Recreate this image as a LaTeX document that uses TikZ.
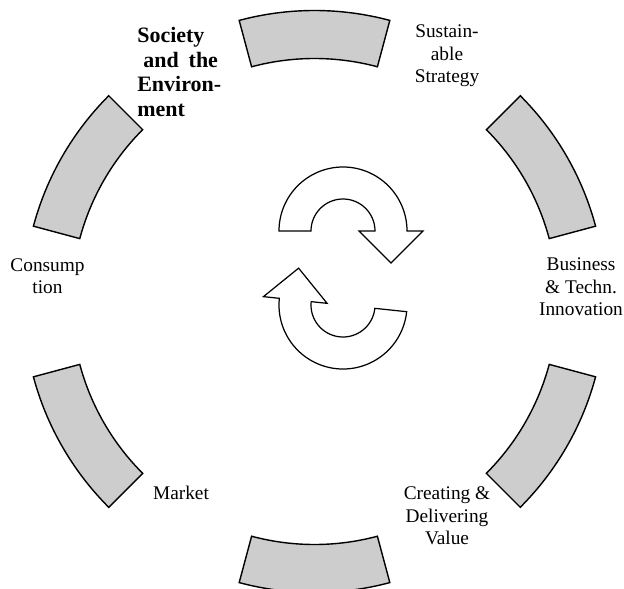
\documentclass[tikz,border=0pt]{standalone}
\usepackage{fontspec}
\setmainfont{Liberation Serif}
\definecolor{segfill}{HTML}{CDCDCD}
\begin{document}
\begin{tikzpicture}[
    x=0.02cm, y=0.02cm,
    seg/.style={draw=black, line width=0.8pt, fill=segfill, line join=miter},
    cyc/.style={draw=black, line width=0.7pt, fill=white, line join=miter},
    lbl/.style={font=\fontsize{11}{12.75}\selectfont, align=center, inner sep=0pt}
    ]
    
    \useasboundingbox (-314.5,-286.5) rectangle (309.5,301.5);
    
    \foreach \a in {90,30,-30,-90,-150,150}
      \draw[seg] (\a-15:243) arc[start angle=\a-15, end angle=\a+15, radius=243]
        -- (\a+15:291) arc[start angle=\a+15, end angle=\a-15, radius=291] -- cycle;
    
    \foreach \dy/\rot in {70.5/0, -3.5/174}
      \draw[cyc, shift={(28.5,\dy)}, rotate=\rot]
        (-64,0) arc[start angle=180, end angle=0, radius=64]
        -- (80,0) -- (48,-32) -- (16,0) -- (32,0)
        arc[start angle=0, end angle=180, radius=32] -- cycle;
    
    \node[lbl, anchor=west, align=left, font=\bfseries\fontsize{12.5}{13.9}\selectfont]
      (soc) at (-177.5,229.5) {Society\\\hspace*{3.4pt}and\hspace{5.7pt}the\\Environ-\\ment};
    \node[lbl] (strat) at (132.5,245.5) {Sustain-\\able\\Strategy};
    \node[lbl] (innov) at (266.5,14.5) {Business\\\& Techn.\\Innovation};
    \node[lbl] (value) at (132.5,-214.5) {Creating \&\\Delivering\\Value};
    \node[lbl] (market) at (-133.5,-191.5) {Market};
    \node[lbl] (consum) at (-267,25.5) {Consump\\tion};
    
\end{tikzpicture}
\end{document}
